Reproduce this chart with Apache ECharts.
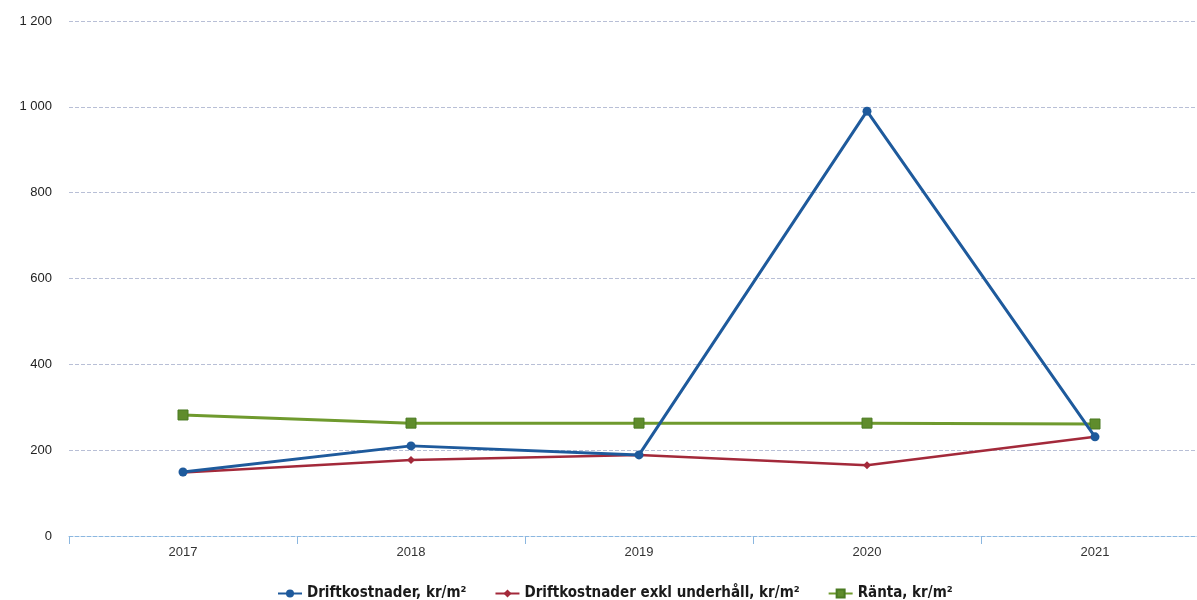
<!DOCTYPE html>
<html>
<head>
<meta charset="utf-8">
<script src="https://cdn.jsdelivr.net/npm/echarts@6/dist/echarts.min.js"></script>
<style>
html, body { margin: 0; padding: 0; background: #fff; }
#chart { width: 1197px; height: 600px; }
</style>
</head>
<body>
<div id="chart"></div>
<script>
var years = ['2017', '2018', '2019', '2020', '2021'];
var drift = [149, 210, 189, 990, 231];
var driftExkl = [148, 177, 189, 165, 231];
var ranta = [282, 263, 263, 263, 261];

var chart = echarts.init(document.getElementById('chart'));

function fmt(v) {
	return String(v).replace(/\B(?=(\d{3})+(?!\d))/g, ' ');
}

var option = {
	animation: false,
	backgroundColor: '#fff',
	textStyle: { fontFamily: 'Liberation Sans, Arial, sans-serif' },
	grid: { left: 69, width: 1140, top: 21, height: 515, outerBoundsMode: 'none' },
	legend: {
		top: 581,
		left: 272,
		itemGap: 28,
		itemWidth: 24,
		itemHeight: 10,
		textStyle: { fontSize: 15, color: '#1a1a1a', fontFamily: 'DejaVu Sans Condensed, Liberation Sans, sans-serif', fontWeight: 'bold' },
		data: ['Driftkostnader, kr/m²', 'Driftkostnader exkl underhåll, kr/m²', 'Ränta, kr/m²']
	},
	xAxis: {
		type: 'category',
		data: years,
		boundaryGap: true,
		axisLine: { lineStyle: { color: '#8bb7e0', type: 'dashed', width: 1 } },
		axisTick: { show: true, length: 8, lineStyle: { color: '#8bb7e0' } },
		axisLabel: { color: '#333', fontSize: 13, margin: 10 }
	},
	yAxis: {
		type: 'value',
		min: 0,
		max: 1200,
		interval: 200,
		axisLine: { show: false },
		axisTick: { show: false },
		axisLabel: { color: '#222', fontSize: 13, margin: 17, formatter: fmt },
		splitLine: { lineStyle: { color: '#b8bfd6', type: 'dashed', width: 1 } }
	},
	series: [
		{
			name: 'Ränta, kr/m²',
			type: 'line',
			data: ranta,
			symbol: 'rect',
			symbolSize: 10,
			z: 2,
			lineStyle: { color: '#6f9a2e', width: 3 },
			itemStyle: { color: '#5f8c2c', borderColor: '#4a7a22', borderWidth: 1 }
		},
		{
			name: 'Driftkostnader exkl underhåll, kr/m²',
			type: 'line',
			data: driftExkl,
			symbol: 'diamond',
			symbolSize: 8,
			z: 3,
			lineStyle: { color: '#a3293a', width: 2.5 },
			itemStyle: { color: '#a3293a' }
		},
		{
			name: 'Driftkostnader, kr/m²',
			type: 'line',
			data: drift,
			symbol: 'circle',
			symbolSize: 9,
			z: 4,
			lineStyle: { color: '#1e5a9c', width: 3 },
			itemStyle: { color: '#1e5a9c' }
		}
	]
};

chart.setOption(option);
</script>
</body>
</html>
